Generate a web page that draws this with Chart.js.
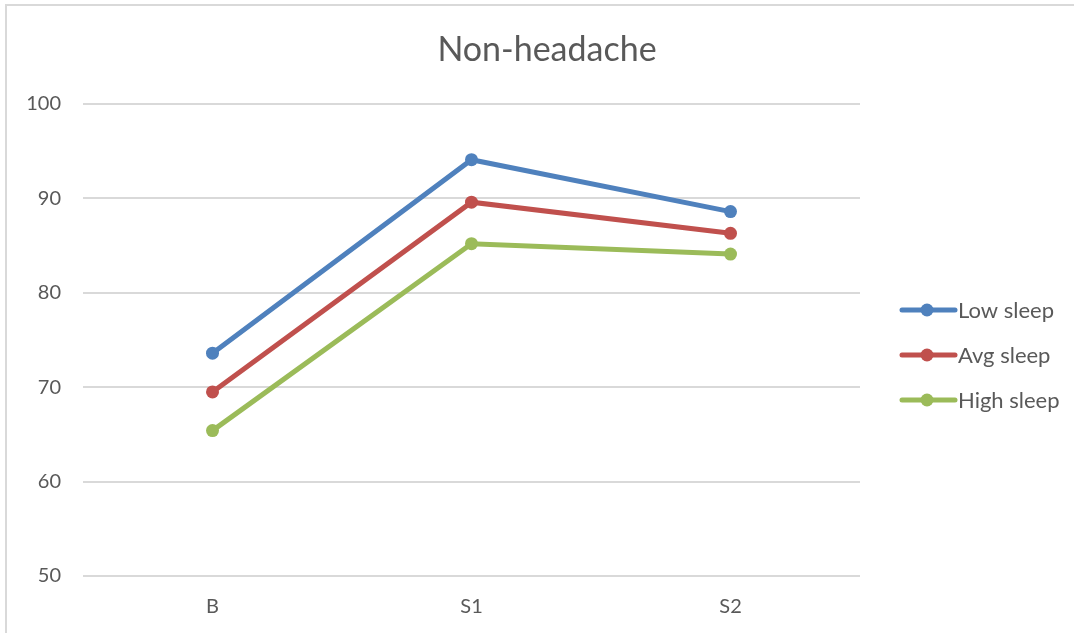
<!DOCTYPE html>
<html>
<head>
<meta charset="utf-8">
<script src="https://cdn.jsdelivr.net/npm/chart.js@4/dist/chart.umd.min.js"></script>
<style>
  html, body { margin: 0; padding: 0; background: #fff; }
  #wrap { width: 1074px; height: 633px; }
</style>
</head>
<body>
<div id="wrap"><canvas id="chart" width="1074" height="633"></canvas></div>
<script>
// chart data
const categories = ["B", "S1", "S2"];
const lowSleep = [73.6, 94.1, 88.6];
const avgSleep = [69.5, 89.6, 86.3];
const highSleep = [65.4, 85.2, 84.1];
const yTicks = [50, 60, 70, 80, 90, 100];

const FONT = "Lato, 'Open Sans', sans-serif";
const TEXT = "#595959";
const GRID = "#d9d9d9";

// border, title and legend drawn on the canvas
const decor = {
    id: "decor",
    afterDraw(chart) {
        const ctx = chart.ctx;
        ctx.save();
        ctx.strokeStyle = GRID;
        ctx.lineWidth = 2;
        ctx.beginPath();
        ctx.moveTo(6, 633);
        ctx.lineTo(6, 5);
        ctx.lineTo(1074, 5);
        ctx.stroke();

        ctx.fillStyle = TEXT;
        ctx.font = "34px " + FONT;
        ctx.textAlign = "center";
        ctx.textBaseline = "middle";
        ctx.fillText("Non-headache", 547, 50);

        ctx.font = "22px " + FONT;
        ctx.textAlign = "left";
        chart.data.datasets.forEach((ds, i) => {
            const y = 310 + i * 45;
            ctx.strokeStyle = ds.borderColor;
            ctx.lineWidth = 5;
            ctx.lineCap = "round";
            ctx.beginPath();
            ctx.moveTo(902, y);
            ctx.lineTo(955, y);
            ctx.stroke();
            ctx.fillStyle = ds.borderColor;
            ctx.beginPath();
            ctx.arc(927, y, 6.5, 0, Math.PI * 2);
            ctx.fill();
            ctx.fillStyle = TEXT;
            ctx.fillText(ds.label, 958, y + 1);
        });
        ctx.restore();
    }
};

function series(label, data, color) {
    return {
        label: label,
        data: data,
        borderColor: color,
        backgroundColor: color,
        borderWidth: 5,
        pointRadius: 6.5,
        pointHoverRadius: 6.5,
        pointBorderWidth: 0,
        tension: 0,
        clip: false
    };
}

new Chart(document.getElementById("chart"), {
    type: "line",
    data: {
        labels: categories,
        datasets: [
            series("Low sleep", lowSleep, "#4f81bd"),
            series("Avg sleep", avgSleep, "#c0504d"),
            series("High sleep", highSleep, "#9bbb59")
        ]
    },
    options: {
        responsive: false,
        animation: false,
        layout: { padding: { left: 6, right: 214, top: 104, bottom: 0 } },
        plugins: {
            legend: { display: false },
            title: { display: false },
            tooltip: { enabled: false }
        },
        scales: {
            x: {
                offset: true,
                grid: { display: false, drawTicks: false },
                border: { display: false },
                ticks: { color: TEXT, font: { family: FONT, size: 20 }, padding: 19 },
                afterFit(scale) { scale.height = 57; }
            },
            y: {
                min: 50,
                max: 100,
                afterBuildTicks(scale) { scale.ticks = yTicks.map(v => ({ value: v })); },
                grid: { color: GRID, lineWidth: 2, drawTicks: false },
                border: { display: false },
                ticks: { color: TEXT, font: { family: FONT, size: 20 }, padding: 22 },
                afterFit(scale) { scale.width = 77; }
            }
        }
    },
    plugins: [decor]
});
</script>
</body>
</html>
